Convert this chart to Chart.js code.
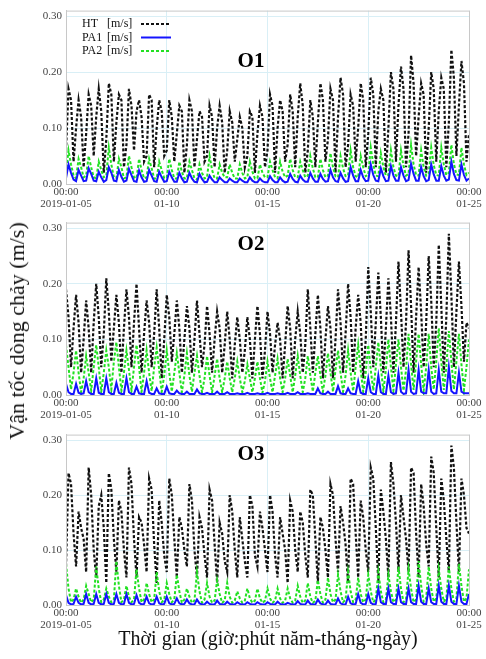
<!DOCTYPE html>
<html>
<head>
<meta charset="utf-8">
<script src="https://cdn.jsdelivr.net/npm/chart.js@4.4.0/dist/chart.umd.min.js"></script>
<style>
body { margin: 0; background: #fff; width: 486px; height: 659px; position: relative; overflow: hidden; font-family: "Liberation Serif", serif; }
.panel { position: absolute; left: 0; width: 486px; height: 212px; }
#yTitle { position: absolute; left: 17px; top: 331px; transform: translate(-50%, -50%) rotate(-90deg); white-space: nowrap; font-size: 22px; color: #111; }
#xTitle { position: absolute; left: 268px; top: 638px; transform: translate(-50%, -50%); white-space: nowrap; font-size: 20px; color: #111; }
</style>
</head>
<body>
<div class="panel" style="top:0"><canvas id="chartO1"></canvas></div>
<div class="panel" style="top:212px"><canvas id="chartO2"></canvas></div>
<div class="panel" style="top:424px"><canvas id="chartO3"></canvas></div>
<div id="yTitle">Vận tốc dòng chảy (m/s)</div>
<div id="xTitle">Thời gian (giờ:phút năm-tháng-ngày)</div>
<script>
// 3-hourly values, 2019-01-05 00:00 .. 2019-01-25 00:00 (one row per day)
const tickLabels = ['2019-01-05', '01-10', '01-15', '01-20', '01-25'];
const tickTime = '00:00';
const seriesNames = ['HT', 'PA1', 'PA2'];
const unitLabel = '[m/s]';
const stepHours = 3;

// ---- O1 ----
const htO1 = [
  .06,.17,.15,.04,.10,.15,.12,.03,
  .09,.16,.14,.05,.12,.17,.13,.02,
  .08,.18,.16,.04,.11,.16,.15,.03,
  .07,.17,.14,.06,.13,.15,.12,.04,
  .05,.16,.15,.03,.10,.15,.13,.05,
  .06,.15,.12,.04,.09,.14,.13,.02,
  .07,.15,.13,.03,.08,.13,.12,.04,
  .05,.14,.12,.03,.10,.14,.11,.02,
  .06,.13,.11,.04,.08,.12,.10,.03,
  .05,.13,.12,.02,.09,.14,.12,.03,
  .06,.16,.14,.02,.10,.15,.13,.04,
  .07,.16,.13,.03,.12,.18,.14,.02,
  .06,.15,.12,.03,.11,.18,.15,.04,
  .08,.17,.15,.02,.12,.19,.16,.03,
  .07,.16,.14,.04,.10,.18,.15,.03,
  .09,.19,.16,.03,.13,.17,.15,.02,
  .10,.20,.17,.04,.14,.21,.17,.03,
  .09,.23,.18,.05,.12,.18,.16,.02,
  .10,.20,.17,.04,.13,.19,.17,.03,
  .11,.24,.19,.05,.14,.22,.18,.04,
  .09
];
const pa1O1 = [
  .010,.035,.020,.008,.005,.025,.015,.005,
  .006,.028,.018,.006,.005,.022,.012,.004,
  .007,.030,.020,.006,.005,.025,.013,.004,
  .006,.027,.016,.005,.004,.024,.012,.004,
  .005,.025,.015,.005,.004,.022,.012,.004,
  .005,.022,.012,.004,.004,.020,.010,.003,
  .004,.020,.010,.004,.003,.018,.009,.003,
  .004,.015,.008,.003,.003,.012,.007,.003,
  .003,.010,.006,.003,.003,.010,.006,.003,
  .003,.012,.006,.003,.003,.010,.005,.003,
  .003,.014,.007,.003,.003,.012,.006,.003,
  .004,.018,.009,.004,.003,.015,.008,.004,
  .004,.020,.010,.004,.004,.018,.009,.004,
  .005,.025,.012,.005,.004,.020,.010,.004,
  .005,.030,.015,.005,.005,.025,.012,.005,
  .006,.035,.016,.006,.005,.028,.014,.005,
  .006,.032,.015,.006,.006,.030,.015,.005,
  .007,.036,.018,.006,.006,.030,.014,.005,
  .007,.035,.017,.006,.006,.032,.015,.006,
  .008,.040,.018,.007,.006,.035,.016,.006,
  .010
];
const pa2O1 = [
  .020,.060,.035,.015,.010,.045,.030,.012,
  .015,.050,.030,.012,.010,.040,.025,.012,
  .015,.065,.035,.012,.010,.045,.030,.010,
  .012,.050,.030,.012,.010,.045,.025,.010,
  .012,.045,.028,.010,.010,.040,.025,.010,
  .012,.045,.025,.010,.010,.040,.022,.010,
  .010,.040,.025,.010,.008,.035,.020,.010,
  .012,.050,.025,.010,.010,.035,.020,.012,
  .012,.035,.020,.010,.010,.035,.020,.010,
  .012,.040,.022,.010,.010,.035,.020,.012,
  .012,.040,.025,.012,.010,.040,.022,.012,
  .015,.045,.025,.012,.012,.040,.025,.012,
  .015,.050,.028,.012,.012,.045,.025,.012,
  .015,.055,.030,.014,.012,.050,.028,.014,
  .015,.060,.030,.014,.012,.050,.030,.014,
  .016,.065,.035,.015,.014,.055,.030,.015,
  .016,.060,.030,.015,.014,.060,.032,.015,
  .018,.070,.035,.016,.015,.060,.030,.015,
  .018,.065,.034,.016,.015,.065,.035,.016,
  .020,.070,.036,.017,.016,.065,.035,.016,
  .020
];

// ---- O2 ----
const htO2 = [
  .19,.14,.05,.12,.18,.13,.04,.10,
  .17,.12,.04,.13,.20,.14,.05,.11,
  .21,.15,.06,.12,.18,.13,.04,.12,
  .19,.14,.05,.13,.20,.12,.04,.11,
  .17,.13,.05,.11,.19,.12,.03,.10,
  .18,.14,.06,.11,.17,.12,.04,.10,
  .16,.12,.04,.10,.17,.11,.05,.09,
  .16,.11,.04,.10,.15,.12,.04,.09,
  .15,.10,.03,.09,.14,.10,.04,.08,
  .14,.10,.03,.10,.16,.11,.03,.08,
  .15,.11,.04,.09,.13,.10,.03,.09,
  .16,.12,.03,.10,.15,.11,.04,.09,
  .19,.12,.04,.11,.18,.12,.03,.10,
  .16,.12,.03,.10,.19,.13,.04,.11,
  .20,.14,.04,.12,.18,.13,.03,.10,
  .23,.15,.05,.13,.22,.14,.04,.12,
  .21,.14,.04,.13,.24,.15,.05,.13,
  .26,.16,.04,.14,.23,.15,.05,.13,
  .25,.17,.05,.13,.27,.16,.04,.14,
  .29,.18,.05,.15,.24,.16,.06,.13,
  .12
];
const pa1O2 = [
  .020,.005,.002,.002,.020,.004,.002,.003,
  .025,.005,.002,.002,.030,.004,.002,.002,
  .030,.005,.002,.002,.022,.004,.002,.002,
  .030,.005,.002,.002,.015,.003,.002,.002,
  .025,.004,.002,.002,.012,.003,.002,.002,
  .015,.003,.002,.002,.008,.003,.002,.002,
  .006,.002,.002,.002,.010,.003,.002,.002,
  .004,.002,.002,.002,.006,.002,.002,.002,
  .005,.002,.002,.002,.003,.002,.002,.002,
  .004,.002,.002,.002,.003,.002,.002,.002,
  .004,.002,.002,.002,.003,.002,.002,.002,
  .004,.002,.002,.002,.005,.002,.002,.002,
  .003,.002,.002,.002,.012,.003,.002,.002,
  .006,.002,.002,.002,.016,.003,.002,.002,
  .012,.003,.002,.002,.025,.004,.002,.002,
  .030,.005,.002,.002,.035,.005,.002,.002,
  .035,.005,.002,.003,.040,.006,.002,.003,
  .045,.006,.002,.003,.045,.006,.003,.003,
  .045,.006,.002,.003,.045,.006,.003,.003,
  .050,.007,.003,.003,.040,.006,.003,.003,
  .003
];
const pa2O2 = [
  .090,.050,.010,.040,.080,.040,.005,.030,
  .070,.040,.008,.050,.090,.050,.006,.040,
  .080,.050,.010,.060,.095,.050,.008,.040,
  .080,.045,.008,.050,.090,.050,.006,.040,
  .080,.040,.007,.050,.085,.045,.006,.035,
  .080,.040,.006,.040,.075,.040,.005,.035,
  .075,.035,.006,.040,.070,.035,.005,.030,
  .070,.035,.005,.035,.065,.030,.005,.030,
  .060,.030,.005,.030,.060,.030,.005,.025,
  .055,.030,.005,.030,.060,.030,.004,.025,
  .060,.030,.005,.035,.065,.030,.005,.030,
  .065,.035,.005,.035,.070,.035,.005,.030,
  .070,.035,.006,.040,.070,.035,.006,.035,
  .075,.040,.006,.045,.080,.040,.006,.035,
  .080,.040,.007,.050,.090,.045,.006,.040,
  .090,.045,.008,.050,.095,.050,.007,.045,
  .100,.050,.008,.055,.100,.050,.008,.045,
  .110,.055,.009,.060,.110,.055,.008,.050,
  .110,.050,.010,.060,.120,.060,.009,.050,
  .115,.060,.010,.060,.110,.055,.009,.050,
  .100
];

// ---- O3 ----
const htO3 = [
  .07,.24,.22,.13,.07,.17,.14,.12,
  .06,.25,.20,.10,.05,.18,.20,.14,
  .04,.24,.21,.12,.06,.19,.17,.10,
  .05,.25,.22,.12,.05,.16,.15,.11,
  .06,.23,.21,.11,.04,.19,.15,.09,
  .06,.23,.20,.12,.05,.16,.14,.10,
  .07,.22,.19,.10,.05,.16,.14,.09,
  .05,.21,.19,.11,.04,.15,.13,.08,
  .06,.20,.17,.10,.05,.16,.12,.08,
  .05,.20,.18,.09,.07,.17,.14,.10,
  .06,.20,.17,.09,.05,.16,.13,.10,
  .04,.19,.17,.10,.06,.17,.15,.09,
  .05,.21,.20,.12,.04,.16,.14,.10,
  .05,.22,.20,.12,.06,.18,.15,.11,
  .04,.23,.22,.13,.05,.19,.16,.10,
  .06,.25,.23,.14,.04,.21,.17,.12,
  .05,.26,.22,.15,.06,.20,.16,.12,
  .06,.25,.24,.13,.05,.22,.18,.11,
  .07,.27,.24,.14,.05,.23,.19,.12,
  .06,.29,.25,.15,.06,.23,.20,.14,
  .13
];
const pa1O3 = [
  .018,.004,.001,.002,.015,.004,.001,.002,
  .020,.004,.001,.002,.020,.004,.001,.002,
  .020,.004,.001,.002,.020,.004,.001,.002,
  .020,.004,.001,.002,.018,.004,.001,.002,
  .015,.003,.001,.002,.015,.003,.001,.002,
  .015,.003,.001,.002,.012,.003,.001,.002,
  .010,.003,.001,.001,.010,.003,.001,.001,
  .006,.002,.001,.001,.008,.002,.001,.001,
  .006,.002,.001,.001,.005,.002,.001,.001,
  .005,.002,.001,.001,.005,.002,.001,.001,
  .005,.002,.001,.001,.006,.002,.001,.001,
  .004,.002,.001,.001,.007,.002,.001,.001,
  .008,.002,.001,.001,.010,.003,.001,.001,
  .008,.002,.001,.001,.012,.003,.001,.001,
  .015,.003,.001,.002,.020,.004,.001,.002,
  .020,.004,.001,.002,.030,.005,.002,.002,
  .030,.005,.002,.002,.030,.005,.002,.002,
  .030,.005,.002,.002,.035,.006,.002,.002,
  .030,.005,.002,.002,.035,.006,.002,.002,
  .035,.006,.002,.002,.035,.006,.002,.002,
  .020
];
const pa2O3 = [
  .075,.030,.005,.010,.030,.015,.004,.010,
  .035,.020,.005,.010,.070,.030,.005,.010,
  .030,.015,.005,.010,.080,.035,.005,.010,
  .035,.015,.005,.010,.065,.030,.005,.010,
  .040,.020,.005,.010,.060,.025,.005,.010,
  .040,.020,.005,.010,.055,.025,.004,.010,
  .030,.015,.004,.008,.060,.025,.004,.010,
  .040,.015,.004,.008,.045,.020,.004,.008,
  .040,.015,.004,.008,.025,.012,.004,.008,
  .030,.012,.004,.008,.030,.012,.004,.008,
  .030,.012,.004,.008,.030,.012,.004,.008,
  .030,.012,.004,.008,.035,.015,.004,.008,
  .040,.015,.004,.008,.045,.020,.004,.010,
  .050,.020,.005,.010,.055,.025,.005,.010,
  .060,.025,.005,.010,.050,.020,.005,.010,
  .055,.025,.005,.010,.060,.025,.005,.010,
  .055,.025,.005,.010,.070,.030,.005,.010,
  .065,.030,.005,.010,.080,.035,.006,.012,
  .070,.030,.006,.012,.065,.030,.006,.012,
  .070,.030,.006,.012,.075,.035,.006,.012,
  .065
];

const serif = '"Liberation Serif", "Times New Roman", serif';
const gridColor = '#d9eff6';

// panel title + legend + frame drawn on top of the plot
const panelDecor = {
  id: 'panelDecor',
  afterDatasetsDraw(chart, args, opts) {
    const ctx = chart.ctx;
    const a = chart.chartArea;
    ctx.save();
    ctx.strokeStyle = '#c8c8c8';
    ctx.lineWidth = 1;
    ctx.strokeRect(a.left + 0.5, a.top + 0.5, a.right - a.left, a.bottom - a.top);

    ctx.fillStyle = '#000';
    ctx.font = 'bold 21px ' + serif;
    ctx.textAlign = 'center';
    ctx.textBaseline = 'middle';
    ctx.fillText(opts.title, 251, opts.titleY);

    if (opts.legend) {
      ctx.font = '12px ' + serif;
      ctx.textAlign = 'left';
      chart.data.datasets.forEach(function(ds, i) {
        const y = 24 + i * 13.5;
        ctx.fillStyle = '#111';
        ctx.fillText(ds.label, 82, y);
        ctx.fillText(unitLabel, 107, y);
        ctx.strokeStyle = ds.borderColor;
        ctx.lineWidth = ds.borderWidth;
        ctx.setLineDash(ds.borderDash || []);
        ctx.beginPath();
        ctx.moveTo(141, y);
        ctx.lineTo(171, y);
        ctx.stroke();
      });
    }
    ctx.restore();
  }
};

function toPoints(values) {
  return values.map(function(v, i) { return { x: i * stepHours, y: v }; });
}

function makePanel(id, title, titleY, ht, pa1, pa2, padTop, padBottom, showLegend) {
  new Chart(document.getElementById(id), {
    type: 'line',
    data: {
      datasets: [{
        label: seriesNames[0],
        data: toPoints(ht),
        borderColor: '#111',
        borderWidth: 2.2,
        borderDash: [3, 2],
        order: 3
      }, {
        label: seriesNames[1],
        data: toPoints(pa1),
        borderColor: '#1414ff',
        borderWidth: 2,
        order: 1
      }, {
        label: seriesNames[2],
        data: toPoints(pa2),
        borderColor: '#22e022',
        borderWidth: 2,
        borderDash: [3, 2],
        order: 2
      }]
    },
    options: {
      responsive: true,
      maintainAspectRatio: false,
      animation: false,
      elements: { point: { radius: 0 }, line: { tension: 0 } },
      layout: { padding: { left: 30, right: 17, top: padTop, bottom: padBottom } },
      plugins: {
        legend: { display: false },
        tooltip: { enabled: false },
        panelDecor: { title: title, titleY: titleY, legend: showLegend }
      },
      scales: {
        x: {
          type: 'linear',
          min: 0,
          max: 480,
          afterFit: function(scale) { scale.height = 28; },
          ticks: {
            stepSize: 120,
            autoSkip: false,
            maxRotation: 0,
            padding: 2,
            color: '#444',
            font: { family: serif, size: 11, lineHeight: 1.1 },
            callback: function(value) {
              return [tickTime, tickLabels[Math.round(value / 120)]];
            }
          },
          grid: { color: gridColor, drawTicks: false },
          border: { color: '#c8c8c8' }
        },
        y: {
          min: 0,
          max: 0.31,
          afterFit: function(scale) { scale.width = 36; },
          ticks: {
            stepSize: 0.1,
            includeBounds: false,
            padding: 4,
            color: '#444',
            font: { family: serif, size: 11 },
            callback: function(value) { return value.toFixed(2); }
          },
          grid: { color: gridColor, drawTicks: false },
          border: { color: '#c8c8c8' }
        }
      }
    },
    plugins: [panelDecor]
  });
}

makePanel('chartO1', 'O1', 62, htO1, pa1O1, pa2O1, 9.5, 0, true);
makePanel('chartO2', 'O2', 33, htO2, pa1O2, pa2O2, 7, 1, false);
makePanel('chartO3', 'O3', 31, htO3, pa1O3, pa2O3, 6, 3, false);
</script>
</body>
</html>
